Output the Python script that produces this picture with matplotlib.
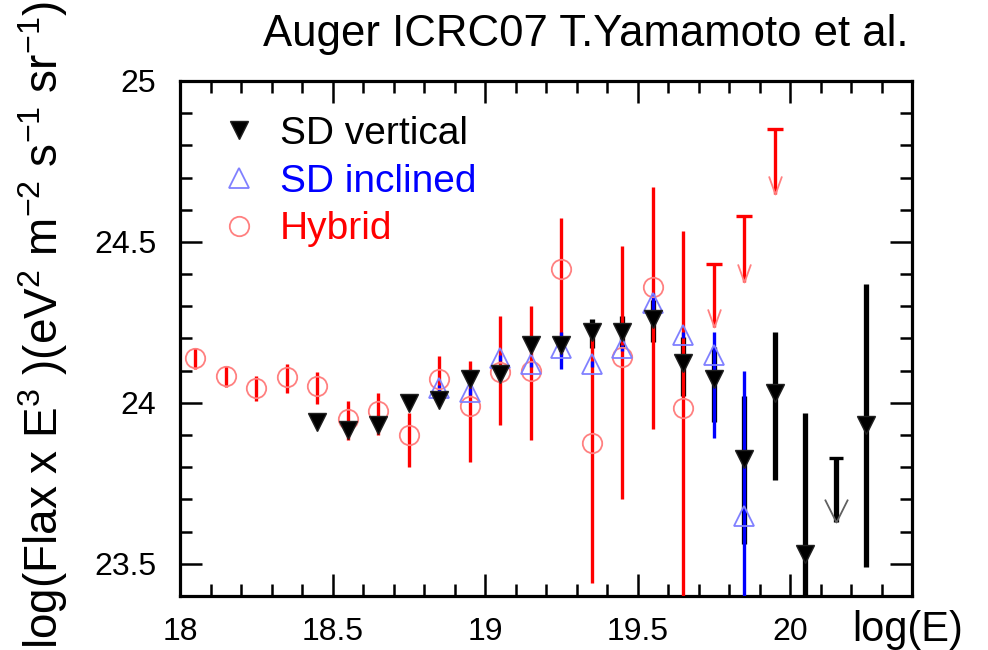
import matplotlib
matplotlib.use('Agg')
import matplotlib.pyplot as plt
import numpy as np
from matplotlib.path import Path
from matplotlib.ticker import FixedLocator, FixedFormatter, MultipleLocator
from matplotlib import font_manager

plt.rcParams['font.family'] = ['Liberation Sans', 'DejaVu Sans']
plt.rcParams['mathtext.fontset'] = 'custom'
plt.rcParams['mathtext.rm'] = 'Liberation Sans'
plt.rcParams['mathtext.it'] = 'Liberation Sans'
plt.rcParams['mathtext.bf'] = 'Liberation Sans'

# ---------------- data ----------------
# SD vertical (black filled down triangles)
sdv_x = [18.45, 18.55, 18.65, 18.75, 18.85, 18.95, 19.05, 19.15, 19.25, 19.35,
         19.45, 19.55, 19.65, 19.75, 19.85, 19.95, 20.05, 20.25]
sdv_y = [23.94, 23.915, 23.93, 24.00, 24.01, 24.075, 24.09, 24.18, 24.18, 24.22,
         24.22, 24.26, 24.125, 24.075, 23.826, 24.03, 23.53, 23.93]
sdv_lo = [23.93, 23.905, 23.92, 23.99, 24.00, 24.065, 24.08, 24.165, 24.16, 24.17,
          24.17, 24.19, 24.02, 23.94, 23.56, 23.76, 23.20, 23.49]
sdv_hi = [23.95, 23.925, 23.94, 24.01, 24.02, 24.085, 24.10, 24.195, 24.20, 24.26,
          24.27, 24.32, 24.205, 24.175, 24.02, 24.22, 23.97, 24.37]
# SD vertical upper limit
sdv_ul_x = [20.15]
sdv_ul_top = [23.83]
sdv_ul_tip = [23.63]

# SD inclined (blue open up triangles)
sdi_x = [18.85, 18.95, 19.05, 19.15, 19.25, 19.35, 19.45, 19.55, 19.65, 19.75, 19.85]
sdi_y = [24.045, 24.035, 24.14, 24.12, 24.17, 24.12, 24.17, 24.31, 24.21, 24.15, 23.65]
sdi_lo = [24.035, 24.025, 24.13, 24.11, 24.105, 24.11, 24.16, 24.28, 24.20, 23.89, 23.20]
sdi_hi = [24.055, 24.045, 24.15, 24.13, 24.22, 24.13, 24.18, 24.34, 24.22, 24.22, 24.10]

# Hybrid (red open circles)
hyb_x = [18.05, 18.15, 18.25, 18.35, 18.45, 18.55, 18.65, 18.75, 18.85, 18.95,
         19.05, 19.15, 19.25, 19.35, 19.45, 19.55, 19.65]
hyb_y = [24.14, 24.085, 24.047, 24.08, 24.053, 23.95, 23.975, 23.90, 24.075, 23.99,
         24.097, 24.10, 24.415, 23.875, 24.143, 24.36, 23.985]
hyb_lo = [24.105, 24.05, 24.006, 24.03, 23.997, 23.885, 23.90, 23.80, 24.034, 23.815,
          23.93, 23.885, 24.15, 23.44, 23.70, 23.92, 23.20]
hyb_hi = [24.17, 24.115, 24.085, 24.12, 24.095, 24.006, 24.03, 23.97, 24.146, 24.13,
          24.27, 24.30, 24.575, 24.20, 24.486, 24.67, 24.535]
# Hybrid upper limits
hyb_ul_x = [19.75, 19.85, 19.95]
hyb_ul_top = [24.43, 24.58, 24.85]
hyb_ul_tip = [24.237, 24.377, 24.65]

xtick_vals = [18, 18.5, 19, 19.5, 20]
xtick_labels = ['18', '18.5', '19', '19.5', '20']
ytick_vals = [23.5, 24, 24.5, 25]
ytick_labels = ['23.5', '24', '24.5', '25']

legend_labels = ['SD vertical', 'SD inclined', 'Hybrid']
legend_colors = ['black', '#0000ff', '#ff0000']

title_text = 'Auger ICRC07 T.Yamamoto et al.'
ylabel_text = r'log(Flax x E$^{3}$ )(eV$^{2}$ m$^{-2}$ s$^{-1}$ sr$^{-1}$)'
xlabel_text = 'log(E)'

# ---------------- figure ----------------
fig = plt.figure(figsize=(9.88, 6.5), dpi=100)
ax = fig.add_axes([0.1822, 0.0831, 0.7409, 0.7923])


def yerr(y, lo, hi):
    y = np.asarray(y); lo = np.asarray(lo); hi = np.asarray(hi)
    return [y - lo, hi - y]


# error bars
ax.errorbar(sdv_x, sdv_y, yerr=yerr(sdv_y, sdv_lo, sdv_hi), fmt='none',
            ecolor='black', elinewidth=3.8, capsize=0, zorder=2)
ax.errorbar(hyb_x, hyb_y, yerr=yerr(hyb_y, hyb_lo, hyb_hi), fmt='none',
            ecolor='#ff0000', elinewidth=2.4, capsize=0, zorder=3)
ax.errorbar(sdi_x, sdi_y, yerr=yerr(sdi_y, sdi_lo, sdi_hi), fmt='none',
            ecolor='#0000ff', elinewidth=2.4, capsize=0, zorder=4)

# upper limits
vpath_red = Path([(-0.36, 1.0), (0.0, 0.0), (0.36, 1.0)],
                 [Path.MOVETO, Path.LINETO, Path.LINETO])
vpath_blk = Path([(-0.5, 1.0), (0.0, 0.0), (0.5, 1.0)],
                 [Path.MOVETO, Path.LINETO, Path.LINETO])

ax.vlines(hyb_ul_x, hyb_ul_tip, hyb_ul_top, color='#ff0000', lw=2.4, zorder=3)
ax.plot(hyb_ul_x, hyb_ul_top, ls='none', marker='_', ms=12, mew=2.4,
        color='#ff0000', zorder=3)
ax.plot(hyb_ul_x, hyb_ul_tip, ls='none', marker=vpath_red, ms=26, mfc='none',
        mec='#ff8080', mew=1.3, zorder=3)

ax.vlines(sdv_ul_x, sdv_ul_tip, sdv_ul_top, color='black', lw=3.8, zorder=2)
ax.plot(sdv_ul_x, sdv_ul_top, ls='none', marker='_', ms=10, mew=2.4,
        color='black', zorder=2)
ax.plot(sdv_ul_x, sdv_ul_tip, ls='none', marker=vpath_blk, ms=33, mfc='none',
        mec='#606060', mew=1.3, zorder=2)

# markers
h_hyb, = ax.plot(hyb_x, hyb_y, ls='none', marker='o', ms=14, mfc='none',
                 mec='#ff8080', mew=1.3, zorder=5)
h_sdi, = ax.plot(sdi_x, sdi_y, ls='none', marker='^', ms=14, mfc='none',
                 mec='#8080ff', mew=1.3, zorder=6)
h_sdv, = ax.plot(sdv_x, sdv_y, ls='none', marker='v', ms=13, color='black',
                 mec='#202020', mew=1.0, zorder=7)

# axes styling
ax.set_xlim(18, 20.4)
ax.set_ylim(23.4, 25.0)
ax.xaxis.set_major_locator(FixedLocator(xtick_vals))
ax.xaxis.set_major_formatter(FixedFormatter(xtick_labels))
ax.yaxis.set_major_locator(FixedLocator(ytick_vals))
ax.yaxis.set_major_formatter(FixedFormatter(ytick_labels))
ax.xaxis.set_minor_locator(MultipleLocator(0.1))
ax.yaxis.set_minor_locator(MultipleLocator(0.1))
ax.tick_params(which='both', direction='in', top=True, right=True,
               colors='black', labelsize=23)
ax.tick_params(which='major', length=16, width=1.8)
ax.tick_params(which='minor', length=8.5, width=1.8)
ax.tick_params(axis='x', which='major', pad=15)
ax.tick_params(axis='y', which='major', pad=17)
for s in ax.spines.values():
    s.set_linewidth(2.3)

# legend
leg = ax.legend([h_sdv, h_sdi, h_hyb], legend_labels, loc='upper left',
                bbox_to_anchor=(0.054, 0.932), frameon=False, fontsize=28,
                handlelength=1.0, handletextpad=0.55, labelspacing=0.3,
                borderpad=0, borderaxespad=0, labelcolor=legend_colors,
                numpoints=1)

# texts
names = {f.name for f in font_manager.fontManager.ttflist}
if 'Liberation Sans Narrow' in names:
    tfam, tsize = 'Liberation Sans Narrow', 37
else:
    tfam, tsize = 'Liberation Sans', 31.5
fig.text(0.5926, 1 - 46 / 650, title_text, ha='center', va='baseline',
         fontsize=tsize, family=tfam)
fig.text(0.044, 0.5, ylabel_text, rotation=90, ha='center', va='center',
         fontsize=33)
fig.text(0.8625, 1 - 641 / 650, xlabel_text, ha='left', va='baseline',
         fontsize=30)

fig.savefig('out.png', dpi=100)
